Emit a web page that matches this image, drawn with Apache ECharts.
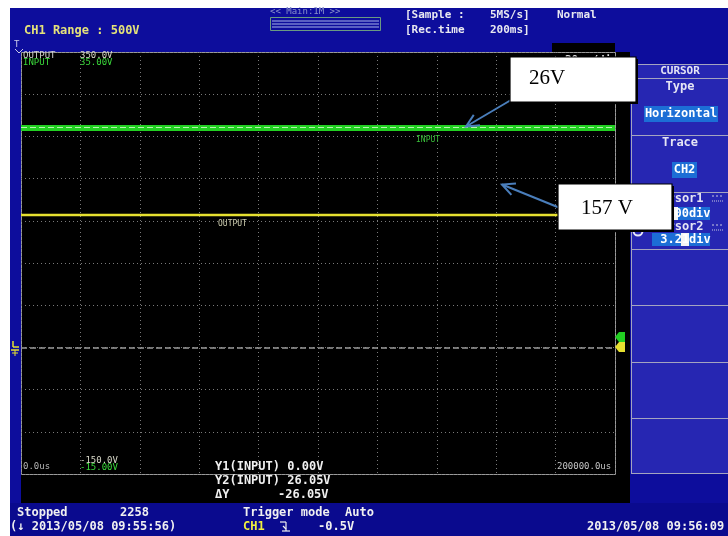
<!DOCTYPE html>
<html>
<head>
<meta charset="utf-8">
<style>
  html, body { margin: 0; padding: 0; background: #ffffff; }
  #scope { width: 728px; height: 536px; }
</style>
<script src="https://cdn.jsdelivr.net/npm/echarts@6/dist/echarts.min.js"></script>
</head>
<body>
<div id="scope"></div>
<script>
// Sample times across the 10 horizontal divisions (µs, 20 ms/div)
const timeUs = [0, 20000, 40000, 60000, 80000, 100000, 120000, 140000, 160000, 180000, 200000];
// CH1 OUTPUT trace, volts (50 V/div, -150 .. 350 V)
const outputV = [157, 157, 157, 157, 157, 157, 157, 157, 157, 157, 157];
// CH2 INPUT trace, volts (5 V/div, -15 .. 35 V)
const inputV = [26, 26, 26, 26, 26, 26, 26, 26, 26, 26, 26];
// Horizontal cursor positions on INPUT
const cursorY1 = 0.00;
const cursorY2 = 26.05;
// Screen scale readouts
const outputScale = ['350.0V', '-150.0V'];
const inputScale = ['35.00V', '-15.00V'];
const timeScale = ['0.0us', '200000.0us'];

const MONO = '"DejaVu Sans Mono", "Liberation Mono", monospace';
const SERIF = '"Liberation Serif", "DejaVu Serif", serif';

const BLUE = '#0d0d9c';
const PANEL = '#2626b2';
const HILITE = '#1c6ed6';
const GREEN = '#22d022';
const YELLOW = '#e6e030';

const chart = echarts.init(document.getElementById('scope'), null, { renderer: 'canvas' });

function txt(x, y, s, fill, font, align, z) {
  return {
    type: 'text', z: z || 10, x: x, y: y,
    style: { text: s, fill: fill, font: font, align: align || 'left', verticalAlign: 'middle' }
  };
}
function rect(x, y, w, h, fill, stroke, z, lw) {
  return {
    type: 'rect', z: z || 1, shape: { x: x, y: y, width: w, height: h },
    style: { fill: fill || 'none', stroke: stroke || null, lineWidth: lw || 1 }
  };
}
function line(x1, y1, x2, y2, stroke, lw, z, dash) {
  return {
    type: 'line', z: z || 5, shape: { x1: x1, y1: y1, x2: x2, y2: y2 },
    style: { stroke: stroke, lineWidth: lw || 1, lineDash: dash || null }
  };
}
function arrow(x1, y1, x2, y2, color, z) {
  const ang = Math.atan2(y2 - y1, x2 - x1);
  const len = 14, spread = 0.45;
  const w1 = [x2 - len * Math.cos(ang - spread), y2 - len * Math.sin(ang - spread)];
  const w2 = [x2 - len * Math.cos(ang + spread), y2 - len * Math.sin(ang + spread)];
  return [
    line(x1, y1, x2, y2, color, 2, z),
    { type: 'polyline', z: z, shape: { points: [w1, [x2, y2], w2] },
      style: { stroke: color, lineWidth: 2, fill: 'none' } }
  ];
}

const g = [];
// Page margins and panels
g.push(rect(0, 0, 728, 8, '#ffffff', null, -20));
g.push(rect(0, 0, 10, 536, '#ffffff', null, -20));
g.push(rect(10, 503, 718, 33, '#0a0a8e', null, -15));
g.push(rect(21, 52, 609, 451, '#000000', null, -10));
g.push(rect(552, 43, 63, 10, '#000000', null, -10));
g.push(rect(21.5, 52.5, 594, 422, 'none', '#9a9a9a', -9));

// Header readouts
g.push(txt(24, 31, 'CH1 Range : 500V', '#e4e27a', 'bold 12px ' + MONO));
g.push(txt(270, 12, '<< Main:1M >>', '#8b93cc', '9px ' + MONO));
g.push(rect(270.5, 17.5, 110, 13, 'none', '#6a9a82', 5));
g.push(line(272, 21, 379, 21, '#a8b4e8', 1));
g.push(line(272, 24, 379, 24, '#a8b4e8', 1));
g.push(line(272, 27, 379, 27, '#a8b4e8', 1));
g.push(txt(405, 15, '[Sample :', '#e8e8f0', 'bold 11px ' + MONO));
g.push(txt(490, 15, '5MS/s]', '#e8e8f0', 'bold 11px ' + MONO));
g.push(txt(557, 15, 'Normal', '#e8e8f0', 'bold 11px ' + MONO));
g.push(txt(405, 30, '[Rec.time', '#e8e8f0', 'bold 11px ' + MONO));
g.push(txt(490, 30, '200ms]', '#e8e8f0', 'bold 11px ' + MONO));

// Trigger position marker (top-left)
g.push(txt(14, 45, 'T', '#c8c8e8', '9px ' + MONO));
g.push(line(15, 49, 19, 53, '#c8c8e8', 1));
g.push(line(23, 49, 19, 53, '#c8c8e8', 1));

// Scale readouts inside the screen
g.push(txt(23, 56, 'OUTPUT', '#d4d4d4', '9px ' + MONO));
g.push(txt(23, 63, 'INPUT', '#3ad83a', '9px ' + MONO));
g.push(txt(80, 56, outputScale[0], '#d8d8c8', '9px ' + MONO));
g.push(txt(80, 63, inputScale[0], '#3ad83a', '9px ' + MONO));
g.push(txt(80, 461, outputScale[1], '#d8d8c8', '9px ' + MONO));
g.push(txt(80, 468, inputScale[1], '#3ad83a', '9px ' + MONO));
g.push(txt(23, 467, timeScale[0], '#b4b4b4', '9px ' + MONO));
g.push(txt(557, 467, timeScale[1], '#c4c4c4', '9px ' + MONO));
g.push(txt(565, 60, '20ms/div', '#e8e8e8', 'bold 11px ' + MONO));

// Trace labels
g.push(txt(416, 140, 'INPUT', '#3ac03a', '8px ' + MONO));
g.push(txt(218, 224, 'OUTPUT', '#ccccae', '8px ' + MONO));

// Cursor readouts
g.push(txt(215, 467, 'Y1(INPUT) 0.00V', '#f0f0f0', 'bold 12px ' + MONO));
g.push(txt(215, 481, 'Y2(INPUT) 26.05V', '#f0f0f0', 'bold 12px ' + MONO));
g.push(txt(215, 495, '\u0394Y', '#f0f0f0', 'bold 12px ' + MONO));
g.push(txt(278, 495, '-26.05V', '#f0f0f0', 'bold 12px ' + MONO));

// Channel ground markers
g.push({ type: 'polygon', z: 8, shape: { points: [[625, 332], [619, 332], [615, 337], [619, 342], [625, 342]] }, style: { fill: GREEN } });
g.push({ type: 'polygon', z: 8, shape: { points: [[625, 342], [619, 342], [615, 347], [619, 352], [625, 352]] }, style: { fill: YELLOW } });
// Trigger level marker (left)
g.push(line(13, 341, 13, 347, YELLOW, 1.5, 8));
g.push(line(13, 347, 19, 347, YELLOW, 1.5, 8));
g.push(line(11, 350, 19, 350, YELLOW, 1.5, 8));
g.push(line(12, 353, 18, 353, YELLOW, 1, 8));
g.push(line(15, 350, 15, 356, YELLOW, 1, 8));

// Status bar
g.push(txt(17, 513, 'Stopped', '#f0f0f0', 'bold 12px ' + MONO));
g.push(txt(120, 513, '2258', '#f0f0f0', 'bold 12px ' + MONO));
g.push(txt(10, 527, '(\u2193 2013/05/08 09:55:56)', '#f0f0f0', 'bold 12px ' + MONO));
g.push(txt(243, 513, 'Trigger mode', '#f0f0f0', 'bold 12px ' + MONO));
g.push(txt(345, 513, 'Auto', '#f0f0f0', 'bold 12px ' + MONO));
g.push(txt(243, 527, 'CH1', '#f0f040', 'bold 12px ' + MONO));
g.push(line(280, 522, 286, 522, '#f0f0f0', 1.2, 10));
g.push(line(286, 522, 286, 531, '#f0f0f0', 1.2, 10));
g.push(line(282, 531, 290, 531, '#f0f0f0', 1.2, 10));
g.push(line(283, 526, 286, 529, '#f0f0f0', 1.2, 10));
g.push(txt(318, 527, '-0.5V', '#f0f0f0', 'bold 12px ' + MONO));
g.push(txt(587, 527, '2013/05/08 09:56:09', '#f0f0f0', 'bold 12px ' + MONO));

// Soft-key menu panel
g.push(rect(631, 64, 97, 409, PANEL, null, -10));
[64, 78, 135, 192, 249, 305, 362, 418, 473].forEach(function (y) {
  g.push(line(631, y + 0.5, 728, y + 0.5, '#a4a4c0', 1, 3));
});
g.push(line(631.5, 64, 631.5, 473, '#a4a4c0', 1, 3));
g.push(txt(680, 71, 'CURSOR', '#e4e4f4', 'bold 11px ' + MONO, 'center'));
g.push(txt(680, 87, 'Type', '#e4e4f4', 'bold 12px ' + MONO, 'center'));
g.push(rect(644, 106, 74, 16, HILITE, null, 4));
g.push(txt(681, 114, 'Horizontal', '#ffffff', 'bold 12px ' + MONO, 'center'));
g.push(txt(680, 143, 'Trace', '#e4e4f4', 'bold 12px ' + MONO, 'center'));
g.push(rect(672, 162, 25, 16, HILITE, null, 4));
g.push(txt(684.5, 170, 'CH2', '#ffffff', 'bold 12px ' + MONO, 'center'));
g.push(txt(653, 199, 'Cursor1', '#e4e4f4', 'bold 12px ' + MONO));
g.push(rect(658, 207, 52, 13, HILITE, null, 4));
g.push(rect(670, 207, 8, 13, '#f4f4f4', null, 5));
g.push(txt(660, 213.5, '0.00div', '#ffffff', 'bold 12px ' + MONO));
g.push(txt(653, 227, 'Cursor2', '#e4e4f4', 'bold 12px ' + MONO));
g.push(rect(652, 233, 58, 13, HILITE, null, 4));
g.push(rect(681, 233, 8, 13, '#f4f4f4', null, 5));
g.push(txt(653, 240, ' 3.21div', '#ffffff', 'bold 12px ' + MONO));
g.push({ type: 'circle', z: 6, shape: { cx: 638, cy: 231, r: 4.5 }, style: { fill: 'none', stroke: '#e8e8f8', lineWidth: 2 } });
[[196, 201], [225, 230]].forEach(function (p) {
  g.push(line(712, p[0], 724, p[0], '#c8c8e0', 1, 6, [2, 2]));
  g.push(line(712, p[1], 724, p[1], '#c8c8e0', 1, 6, [1, 1]));
});

// Callout boxes with arrows
g.push(rect(512, 59, 126, 45, '#000000', null, 30));
g.push(rect(510, 57, 126, 45, '#ffffff', '#000000', 31, 1.2));
g.push(txt(529, 78, '26V', '#000000', '21px ' + SERIF, 'left', 32));
g.push(rect(560, 186, 114, 46, '#000000', null, 30));
g.push(rect(558, 184, 114, 46, '#ffffff', '#000000', 31, 1.2));
g.push(txt(581, 208, '157 V', '#000000', '21px ' + SERIF, 'left', 32));
arrow(511, 100, 466, 126.5, '#4a7ebb', 29).forEach(function (e) { g.push(e); });
arrow(560, 208, 502, 184.5, '#4a7ebb', 29).forEach(function (e) { g.push(e); });

const gridLine = { show: true, lineStyle: { color: '#7a7a7a', width: 1, type: [1, 3] } };

chart.setOption({
  animation: false,
  backgroundColor: BLUE,
  grid: { left: 21, top: 52, width: 594, height: 422, show: false },
  xAxis: {
    type: 'value', min: 0, max: 200000, interval: 20000,
    axisLine: { show: false }, axisTick: { show: false }, axisLabel: { show: false },
    splitLine: gridLine
  },
  yAxis: [
    {
      type: 'value', min: -150, max: 350, interval: 50,
      axisLine: { show: false }, axisTick: { show: false }, axisLabel: { show: false },
      splitLine: gridLine
    },
    {
      type: 'value', min: -15, max: 35, interval: 5, position: 'left',
      axisLine: { show: false }, axisTick: { show: false }, axisLabel: { show: false },
      splitLine: { show: false }
    }
  ],
  series: [
    {
      name: 'OUTPUT', type: 'line', yAxisIndex: 0, z: 3,
      data: timeUs.map(function (t, i) { return [t, outputV[i]]; }),
      symbol: 'none', lineStyle: { color: YELLOW, width: 2.5 }
    },
    {
      name: 'INPUT', type: 'line', yAxisIndex: 1, z: 4,
      data: timeUs.map(function (t, i) { return [t, inputV[i]]; }),
      symbol: 'none', lineStyle: { color: GREEN, width: 6 },
      markLine: {
        silent: true, symbol: 'none', label: { show: false },
        data: [
          { yAxis: cursorY1, lineStyle: { color: '#9a9a9a', width: 1.5, type: [6, 3] } },
          { yAxis: cursorY2, lineStyle: { color: '#b8f0b0', width: 1, type: [6, 3] } }
        ]
      }
    }
  ],
  graphic: g
});
</script>
</body>
</html>
